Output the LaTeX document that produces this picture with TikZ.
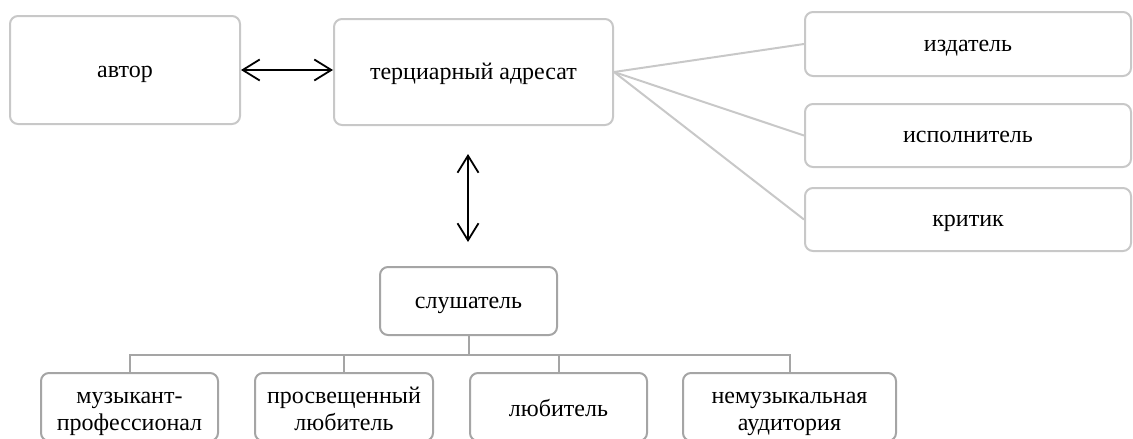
\documentclass[tikz,border=0pt]{standalone}
\usepackage{fontspec}
\setmainfont{Liberation Serif}
\usetikzlibrary{arrows.meta}
\definecolor{lightedge}{RGB}{200,200,200}
\definecolor{darkedge}{RGB}{165,165,165}

\begin{document}
\begin{tikzpicture}[x=1pt,y=-1pt]
\tikzstyle{every node}=[font=\fontsize{24}{27}\selectfont]
\tikzstyle{box}=[draw=lightedge,line width=2pt,rounded corners=8pt,fill=white,align=center,inner sep=0pt,text height=19pt,text depth=5pt]
\tikzstyle{lowbox}=[box,draw=darkedge,minimum height=68pt,text height=23pt]
\tikzstyle{twoline}=[lowbox,text height=50pt,text depth=4pt]
\tikzstyle{dbl}=[line width=1.8pt,{Straight Barb[length=17pt,width=21pt]}-{Straight Barb[length=17pt,width=21pt]}]
\useasboundingbox (0,0) rectangle (1133,439);

\node[box,minimum width=230pt,minimum height=108pt] (avtor) at (125,70) {автор};
\node[box,minimum width=279pt,minimum height=106pt] (adresat) at (473.5,72) {терциарный адресат};
\node[box,minimum width=326pt,minimum height=64pt] (izdatel) at (968,44) {издатель};
\node[box,minimum width=326pt,minimum height=63pt] (ispoln) at (968,135.5) {исполнитель};
\node[box,minimum width=326pt,minimum height=63pt] (kritik) at (968,219.5) {критик};

\node[lowbox,minimum width=177pt,text height=19pt] (slush) at (468.5,301) {слушатель};
\node[twoline,minimum width=177pt] (prof) at (129.5,407) {музыкант-\\профессионал};
\node[twoline,minimum width=178pt] (prosv) at (344,407) {просвещенный\\любитель};
\node[lowbox,minimum width=177pt] (lub) at (558.5,407) {любитель};
\node[twoline,minimum width=213pt] (nemuz) at (789.5,407) {немузыкальная\\аудитория};

\coordinate (up) at (468,154);
\coordinate (dn) at (468,242);

\draw[dbl] (avtor.east) -- (adresat.west |- avtor.east);
\draw[dbl] (up) -- (dn);

\foreach \n in {izdatel,ispoln,kritik}
  \draw[lightedge,line width=2pt] (adresat.east) -- (\n.west);

\foreach \n in {prof,prosv,lub,nemuz}
  \draw[darkedge,line width=2pt] (slush.south) -- ++(0,19) -| (\n.north);

\end{tikzpicture}
\end{document}
